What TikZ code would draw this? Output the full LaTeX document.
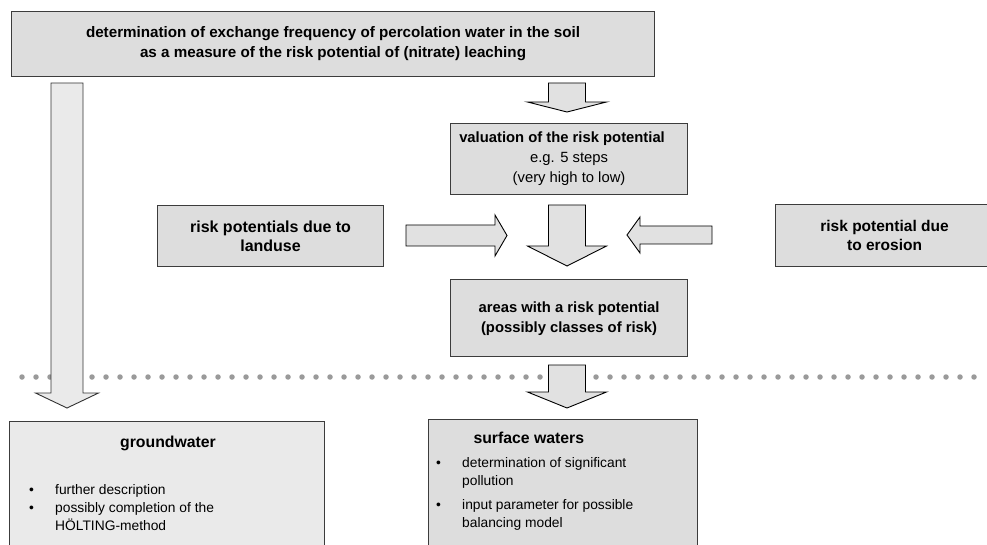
\documentclass[tikz,border=0pt]{standalone}
\usepackage{fontspec}
\setmainfont{Liberation Sans}
\definecolor{boxgray}{HTML}{DDDDDD}
\definecolor{palegray}{HTML}{EAEAEA}
\definecolor{arrowgray}{HTML}{E1E1E1}
\definecolor{dotgray}{HTML}{9A9A9A}
\definecolor{edgegray}{HTML}{3C3C3C}
\begin{document}
\begin{tikzpicture}[x=1pt,y=-1pt,
  panel/.style={draw=edgegray, line width=1.1pt, fill=boxgray, inner sep=0pt,
    anchor=north west, align=center},
  toptxt/.style={font=\fontsize{15.2}{21}\selectfont\bfseries},
  midtxt/.style={font=\fontsize{14.8}{20}\selectfont},
  sidetxt/.style={font=\fontsize{16}{18.5}\selectfont\bfseries},
  titletxt/.style={font=\fontsize{15.8}{19}\selectfont\bfseries},
  listtxt/.style={font=\fontsize{13.8}{18}\selectfont, inner sep=0pt, anchor=base west},
  blockfill/.style={draw=black, line width=0.9pt, fill=arrowgray, line join=miter},
  longfill/.style={draw=black!80, line width=0.9pt, fill=palegray},
  pics/downblock/.style n args={5}{code={
    \draw[#5] (-#1,0) -- (-#1,#3) -- (-#2,#3) -- (0,#4) -- (#2,#3) -- (#1,#3) -- (#1,0) -- cycle;
  }},
  pics/rightblock/.style n args={4}{code={
    \draw[blockfill] (0,-#2) -- (#1,-#2) -- (#1,-#3) -- (#1+#4,0) -- (#1,#3) -- (#1,#2) -- (0,#2) -- cycle;
  }},
]
\useasboundingbox (0,0) rectangle (987,545);

% separating dotted line
\coordinate (dotL) at (22,377);
\coordinate (dotR) at (987,377);
\draw[dotgray, line width=5.5pt, line cap=round, dash pattern=on 0pt off 14pt] (dotL) -- (dotR);

% boxes
\node[panel, toptxt, minimum width=643pt, minimum height=65pt] (top) at (11,11)
  {\raisebox{4pt}{\shortstack{determination of exchange frequency of percolation water in the soil\\[3pt]
   as a measure of the risk potential of (nitrate) leaching}}};
\node[panel, midtxt, minimum width=237pt, minimum height=71pt] (val) at (450,123)
  {\textbf{valuation of the risk potential}\hspace*{14pt}\\e.g. 5 steps\\(very high to low)};
\node[panel, sidetxt, minimum width=226pt, minimum height=61pt] (land) at (157,205)
  {risk potentials due to\\landuse};
\node[panel, sidetxt, font=\fontsize{15.5}{18.5}\selectfont\bfseries,
      minimum width=218pt, minimum height=62pt] (ero) at (775,204)
  {risk potential due\\to erosion};
\node[panel, font=\fontsize{14.8}{20}\selectfont\bfseries,
      minimum width=237pt, minimum height=77pt] (area) at (450,279)
  {\raisebox{-3pt}{\begin{tabular}{@{}c@{}}areas with a risk potential\\(possibly classes of risk)\end{tabular}}};
\node[panel, fill=palegray, minimum width=315pt, minimum height=140pt] (gw) at (9,421) {};
\node[panel, minimum width=269pt, minimum height=140pt] (sw) at (428,419) {};

% block arrows
\pic at (67,83) {downblock={16}{31.5}{310}{325}{longfill}};
\pic at (567,83) {downblock={18.5}{39.5}{19}{29}{blockfill}};
\pic at (567,205) {downblock={18.5}{39.5}{41}{61}{blockfill}};
\pic at (567,365) {downblock={18.5}{39.5}{27}{43}{blockfill}};
\pic at (406,235.5) {rightblock={89}{10.5}{20.5}{12}};
\pic[xscale=-1] at (712,235) {rightblock={72}{9}{18}{13}};

% groundwater
\node[titletxt, anchor=base] (gwtitle) at (168,447) {groundwater};
\node[listtxt] (gwlist) at (29,494) {%
  \begin{tabular}[t]{@{}p{26pt}@{}l@{}}
  \textbullet & further description\\
  \textbullet & possibly completion of the\\
              & HÖLTING-method
  \end{tabular}};

% surface waters
\node[titletxt, anchor=base west] (swtitle) at (470,443) {surface waters};
\node[listtxt] (swlist) at (436,467) {%
  \begin{tabular}[t]{@{}p{26pt}@{}l@{}}
  \textbullet & determination of significant\\
              & pollution\\[6pt]
  \textbullet & input parameter for possible\\
              & balancing model
  \end{tabular}};
\end{tikzpicture}
\end{document}
